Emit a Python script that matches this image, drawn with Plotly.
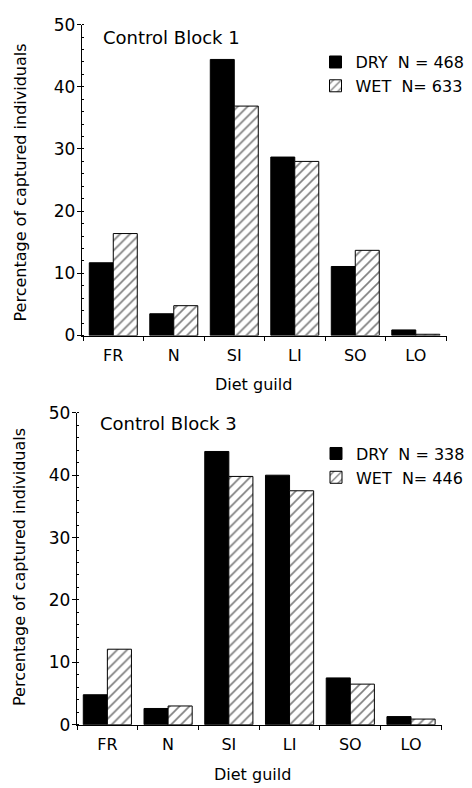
import plotly.graph_objects as go

categories = ["FR", "N", "SI", "LI", "SO", "LO"]
dry_block1 = [11.7, 3.5, 44.4, 28.7, 11.1, 0.9]
wet_block1 = [16.4, 4.8, 36.9, 28.0, 13.7, 0.2]
dry_block3 = [4.8, 2.6, 43.8, 40.0, 7.5, 1.3]
wet_block3 = [12.1, 3.0, 39.8, 37.5, 6.5, 0.9]
labels_block1 = ["DRY\u00a0\u00a0N = 468", "WET\u00a0\u00a0N= 633"]
labels_block3 = ["DRY\u00a0\u00a0N = 338", "WET\u00a0\u00a0N= 446"]
titles = ["Control Block 1", "Control Block 3"]
y_ticks = [0, 10, 20, 30, 40, 50]

W, H = 472, 788
FONT = "DejaVu Sans"

def px(x):
    return x / W

def py(y):
    return 1 - y / H

fig = go.Figure()

def add_pair(dry, wet, labels, xa, ya, legend):
    fig.add_trace(go.Bar(
        x=categories, y=dry, name=labels[0], xaxis=xa, yaxis=ya, legend=legend,
        marker=dict(color="black", line=dict(color="black", width=1)),
    ))
    fig.add_trace(go.Bar(
        x=categories, y=wet, name=labels[1], xaxis=xa, yaxis=ya, legend=legend,
        marker=dict(color="white", line=dict(color="black", width=1),
                    pattern=dict(shape="/", fgcolor="black", bgcolor="white",
                                 size=7, solidity=0.24)),
    ))

add_pair(dry_block1, wet_block1, labels_block1, "x", "y", "legend")
add_pair(dry_block3, wet_block3, labels_block3, "x2", "y2", "legend2")

def xaxis(domain, rng, anchor):
    return dict(
        domain=domain, range=rng, anchor=anchor, type="category",
        showline=True, linecolor="black", linewidth=1.3,
        ticks="outside", tickson="boundaries", ticklen=4, tickcolor="black", tickwidth=1,
        showgrid=False, zeroline=False, ticklabelstandoff=5,
        tickfont=dict(family=FONT, size=16, color="black"), fixedrange=True,
    )

def yaxis(domain, anchor):
    return dict(
        domain=domain, range=[0, 50], anchor=anchor,
        tickvals=y_ticks, ticktext=[str(t) for t in y_ticks],
        showline=True, linecolor="black", linewidth=1.3,
        ticks="outside", ticklen=4, tickcolor="black", tickwidth=1,
        minor=dict(dtick=2, ticks="inside", ticklen=2, tickcolor="black", tickwidth=1),
        showgrid=False, zeroline=False, ticklabelstandoff=-2,
        tickfont=dict(family=FONT, size=17, color="black"), fixedrange=True,
    )

fig.update_layout(
    width=W, height=H, margin=dict(l=0, r=0, t=0, b=0),
    paper_bgcolor="white", plot_bgcolor="white",
    barmode="group", bargap=0.207, bargroupgap=0,
    xaxis=xaxis([px(82), px(447)], [-0.517, 5.516], "y"),
    yaxis=yaxis([py(334), py(15)], "x"),
    xaxis2=xaxis([px(77), px(441.7)], [-0.5, 5.505], "y2"),
    yaxis2=yaxis([py(733.3), py(413.3)], "x2"),
    legend=dict(x=px(315.5), y=py(36), xanchor="left", yanchor="top",
                font=dict(family=FONT, size=16, color="black"),
                bgcolor="rgba(0,0,0,0)", tracegroupgap=0, itemclick=False),
    legend2=dict(x=px(316), y=py(437.7), xanchor="left", yanchor="top",
                 font=dict(family=FONT, size=16, color="black"),
                 bgcolor="rgba(0,0,0,0)", tracegroupgap=0, itemclick=False),
    showlegend=True,
)

ann = []
ann.append(dict(text=titles[0], x=px(101), y=py(28), xanchor="left", yanchor="middle"))
ann.append(dict(text=titles[1], x=px(97.7), y=py(424), xanchor="left", yanchor="middle"))
ann.append(dict(text="Diet guild", x=px(253), y=py(384), xanchor="center", yanchor="middle"))
ann.append(dict(text="Diet guild", x=px(252), y=py(784), xanchor="center", yanchor="middle"))
ann.append(dict(text="Percentage of captured individuals", x=px(21), y=py(177),
                xanchor="center", yanchor="middle", textangle=-90))
ann.append(dict(text="Percentage of captured individuals", x=px(20), y=py(571.5),
                xanchor="center", yanchor="middle", textangle=-90))
for i, a in enumerate(ann):
    a.update(xref="paper", yref="paper", showarrow=False,
             font=dict(family=FONT, size=18 if i < 2 else 16, color="black"))
fig.update_layout(annotations=ann)

fig.write_html(
    "out.html",
    config={"displayModeBar": False, "staticPlot": True},
    post_script="document.body.style.margin='0';document.body.style.overflow='hidden';",
)
